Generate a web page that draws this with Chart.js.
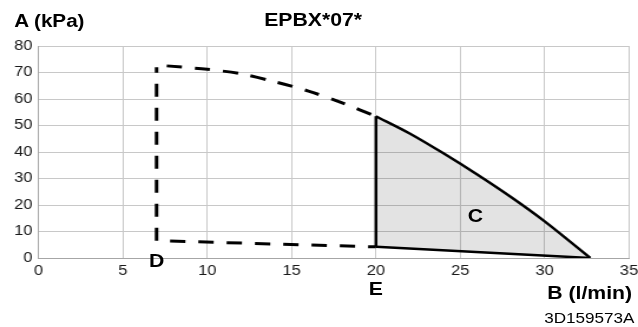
<!DOCTYPE html>
<html lang="en">
<head>
    <meta charset="UTF-8">
    <title>EPBX*07*</title>
    <script src="https://cdn.jsdelivr.net/npm/chart.js"></script>
    <style>
        body {
            margin: 0;
            padding: 0;
            background: #fff;
            overflow: hidden;
            font-family: "Liberation Sans", Arial, sans-serif;
            color: #000;
        }
        /* the source figure is stretched sideways, so draw narrower and scale it out */
        #wrap {
            position: relative;
            width: 541px;
            height: 327px;
            transform: scaleX(1.1793);
            transform-origin: 0 0;
        }
        .lbl {
            position: absolute;
            line-height: 1;
            white-space: nowrap;
            font-weight: bold;
            font-size: 18px;
        }
    </style>
</head>
<body>
    <div id="wrap">
        <canvas id="chart" width="541" height="327"></canvas>
        <div class="lbl" style="left:12px; top:13px; font-size:17.5px;">A (kPa)</div>
        <div class="lbl" style="left:224px; top:11px;">EPBX*07*</div>
        <div class="lbl" style="right:5px; top:284px;">B (l/min)</div>
        <div class="lbl" style="right:3px; top:311px; font-size:14.5px; font-weight:normal;">3D159573A</div>
        <div class="lbl" id="lblD">D</div>
        <div class="lbl" id="lblE">E</div>
        <div class="lbl" id="lblC">C</div>
    </div>
    <script>
        // axis ranges
        const xTicks = [0, 5, 10, 15, 20, 25, 30, 35];
        const yTicks = [0, 10, 20, 30, 40, 50, 60, 70, 80];

        // dashed outline (D side)
        const dLeftX = [7, 7];
        const dLeftY = [6.5, 72];
        const dTopX = [7.6, 10, 12, 14, 16, 18, 20];
        const dTopY = [72.5, 71.2, 69.5, 66.5, 63, 58.5, 53.5];
        const dBottomX = [7.8, 20];
        const dBottomY = [6.4, 4.2];

        // solid region C
        const cUpperX = [20, 22, 24, 26, 28, 30, 32.7];
        const cUpperY = [53.5, 47, 39.5, 31.5, 23, 13.8, 0];
        const cLowerX = [20, 32.7];
        const cLowerY = [4.2, 0];
        const eLineX = [20, 20];
        const eLineY = [4.2, 53.5];

        // letter marks (x value, y value or null for below the axis)
        const marks = [
            { id: 'lblD', x: 7, y: null, py: 261 },
            { id: 'lblE', x: 20, y: null, py: 288.5 },
            { id: 'lblC', x: 25.9, y: 15.8, py: null }
        ];

        function pts(xs, ys) {
            return xs.map((x, i) => ({ x: x, y: ys[i] }));
        }

        const dashed = { borderColor: '#000', borderWidth: 3, borderDash: [13, 11], pointRadius: 0, showLine: true, fill: false };
        const solid = { borderColor: '#000', borderWidth: 2.5, pointRadius: 0, showLine: true, fill: false };

        Chart.defaults.font.family = '"Liberation Sans", Arial, sans-serif';
        Chart.defaults.color = '#1a1a1a';

        const chart = new Chart(document.getElementById('chart').getContext('2d'), {
            type: 'scatter',
            data: {
                datasets: [
                    Object.assign({}, solid, { data: pts(cUpperX, cUpperY), tension: 0.3, fill: '+1', backgroundColor: 'rgba(0, 0, 0, 0.11)' }),
                    Object.assign({}, solid, { data: pts(cLowerX, cLowerY) }),
                    Object.assign({}, solid, { data: pts(eLineX, eLineY) }),
                    Object.assign({}, dashed, { data: pts(dLeftX, dLeftY) }),
                    Object.assign({}, dashed, { data: pts(dTopX, dTopY), tension: 0.3 }),
                    Object.assign({}, dashed, { data: pts(dBottomX, dBottomY) })
                ]
            },
            options: {
                responsive: false,
                animation: false,
                layout: { padding: { left: 0, right: 7.6, top: 46, bottom: 0 } },
                plugins: {
                    legend: { display: false },
                    tooltip: { enabled: false }
                },
                scales: {
                    x: {
                        type: 'linear',
                        min: xTicks[0],
                        max: xTicks[xTicks.length - 1],
                        afterBuildTicks: s => { s.ticks = xTicks.map(v => ({ value: v })); },
                        afterFit: s => {
                            s.height = 69;
                            s.paddingLeft = 0;
                            s.paddingRight = 0;
                        },
                        grid: { color: '#c8c8c8', drawTicks: false },
                        border: { color: '#a6a6a6' },
                        ticks: { font: { size: 14 }, padding: 5, maxRotation: 0 }
                    },
                    y: {
                        type: 'linear',
                        min: yTicks[0],
                        max: yTicks[yTicks.length - 1],
                        afterBuildTicks: s => { s.ticks = yTicks.map(v => ({ value: v })); },
                        afterFit: s => {
                            s.width = 32.6;
                            s.paddingTop = 0;
                            s.paddingBottom = 0;
                        },
                        grid: { color: '#c8c8c8', drawTicks: false },
                        border: { color: '#a6a6a6' },
                        ticks: { font: { size: 14 }, padding: 5 }
                    }
                }
            }
        });

        // put the letter labels where the scales say
        marks.forEach(m => {
            const el = document.getElementById(m.id);
            const px = chart.scales.x.getPixelForValue(m.x);
            const py = m.y === null ? m.py : chart.scales.y.getPixelForValue(m.y);
            el.style.left = px + 'px';
            el.style.top = py + 'px';
            el.style.transform = 'translate(-50%, -50%)';
        });
    </script>
</body>
</html>
